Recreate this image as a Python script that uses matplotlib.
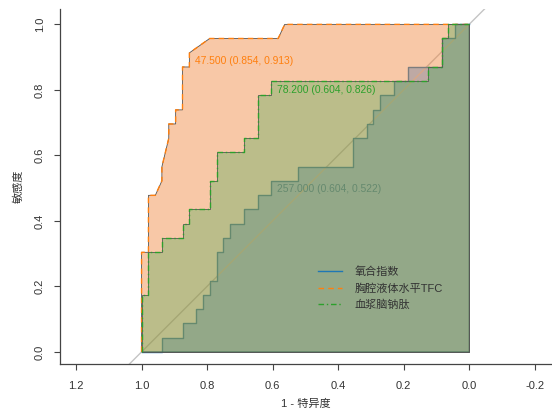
import matplotlib.pyplot as plt
import numpy as np

plt.rcParams['font.family'] = ['Liberation Sans', 'Noto Sans CJK SC', 'DejaVu Sans']
plt.rcParams['axes.unicode_minus'] = False

# ROC vertices (specificity, sensitivity)
# 氧合指数
SpecOI = [1.0, 0.938, 0.938, 0.875, 0.875, 0.833, 0.833, 0.813, 0.813, 0.792, 0.792, 0.771, 0.771,
          0.750, 0.750, 0.729, 0.729, 0.688, 0.688, 0.646, 0.646, 0.604, 0.604, 0.521, 0.521, 0.354,
          0.354, 0.313, 0.313, 0.292, 0.292, 0.271, 0.271, 0.229, 0.229, 0.188, 0.188, 0.083, 0.083,
          0.042, 0.042, 0.0]
SensOI = [0.0, 0.0, 0.043, 0.043, 0.087, 0.087, 0.130, 0.130, 0.174, 0.174, 0.217, 0.217, 0.304,
          0.304, 0.348, 0.348, 0.391, 0.391, 0.435, 0.435, 0.478, 0.478, 0.522, 0.522, 0.565, 0.565,
          0.652, 0.652, 0.696, 0.696, 0.739, 0.739, 0.783, 0.783, 0.826, 0.826, 0.870, 0.870, 0.957,
          0.957, 1.0, 1.0]
# 胸腔液体水平TFC
SpecTFC = [1.0, 1.0, 0.979, 0.979, 0.979, 0.958, 0.938, 0.938, 0.917, 0.917, 0.896, 0.896, 0.875,
           0.875, 0.854, 0.854, 0.792, 0.583, 0.563, 0.0]
SensTFC = [0.0, 0.304, 0.304, 0.435, 0.478, 0.478, 0.522, 0.565, 0.652, 0.696, 0.696, 0.739, 0.739,
           0.870, 0.870, 0.913, 0.957, 0.957, 1.0, 1.0]
# 血浆脑钠肽
SpecBNP = [1.0, 1.0, 0.979, 0.979, 0.938, 0.938, 0.875, 0.875, 0.854, 0.854, 0.792, 0.792, 0.771,
           0.771, 0.688, 0.688, 0.646, 0.646, 0.604, 0.604, 0.125, 0.125, 0.083, 0.083, 0.063, 0.063, 0.0]
SensBNP = [0.0, 0.174, 0.174, 0.304, 0.304, 0.348, 0.348, 0.391, 0.391, 0.435, 0.435, 0.522, 0.522,
           0.609, 0.609, 0.652, 0.652, 0.783, 0.783, 0.826, 0.826, 0.870, 0.870, 0.957, 0.957, 1.0, 1.0]

Labels = ['氧合指数', '胸腔液体水平TFC', '血浆脑钠肽']
BestThres = ['257.000', '47.500', '78.200']
BestSpec = [0.604, 0.854, 0.604]
BestSens = [0.522, 0.913, 0.826]
XTicks = [1.2, 1.0, 0.8, 0.6, 0.4, 0.2, 0.0, -0.2]
YTicks = [0.0, 0.2, 0.4, 0.6, 0.8, 1.0]

LineCol = ['#1f77b4', '#ff7f0e', '#2ca02c']
FillCol = [(0.09, 0.52, 0.95, 0.45), (0.94, 0.52, 0.24, 0.45), (0.19, 0.65, 0.29, 0.30)]
LineSty = ['-', (0, (4, 3)), (0, (4, 2, 1, 2))]

fig = plt.figure(figsize=(5.52, 4.16), dpi=100)
ax = fig.add_axes([60/552, 52/416, 492/552, 355/416])

curves = [(SpecOI, SensOI), (SpecTFC, SensTFC), (SpecBNP, SensBNP)]
for i in range(3):
    sp, se = curves[i]
    z = 1 + 2*i
    # auc polygon closed at the (0,0) corner
    ax.fill(np.append(sp, 0.0), np.append(se, 0.0), facecolor=FillCol[i],
            edgecolor='#555555', linewidth=0.6, zorder=z)
    if i == 0:
        ax.axline((1, 0), (0, 1), color='#c4c4c4', linewidth=1, zorder=z + 0.2)
    ax.plot(sp, se, color=LineCol[i], linestyle=LineSty[i], linewidth=1.0, zorder=z + 0.5,
            label=Labels[i])
    ax.annotate(BestThres[i] + ' (%.3f, %.3f)' % (BestSpec[i], BestSens[i]),
                xy=(BestSpec[i], BestSens[i]), xytext=(4.3, -2.5), textcoords='offset points',
                ha='left', va='top', fontsize=7.4, color=LineCol[i], zorder=z + 0.7)

ax.set_xlim(1.249, -0.253)
ax.set_ylim(-0.037, 1.047)
ax.set_xticks(XTicks)
ax.set_xticklabels(['%.1f' % t for t in XTicks])
ax.set_yticks(YTicks)
ax.set_yticklabels(['%.1f' % t for t in YTicks], rotation=90, va='center')
for s in ['top', 'right']:
    ax.spines[s].set_visible(False)
for s in ['left', 'bottom']:
    ax.spines[s].set_color('#444444')
    ax.spines[s].set_linewidth(0.9)
ax.tick_params(axis='both', direction='out', length=4, width=0.8, color='#444444',
               labelcolor='#333333', labelsize=8)
ax.tick_params(axis='x', pad=8)
ax.tick_params(axis='y', pad=7)
ax.set_xlabel('1 - 特异度', fontsize=8, color='#333333', labelpad=6)
ax.set_ylabel('敏感度', fontsize=8, color='#333333', labelpad=8)

leg = ax.legend(loc='upper left', bbox_to_anchor=(318/552, 1 - 266/416), bbox_transform=fig.transFigure,
                frameon=False, fontsize=8, handlelength=2.2, handletextpad=1.1, labelspacing=0.55,
                borderpad=0, borderaxespad=0)
leg.set_zorder(10)
for t in leg.get_texts():
    t.set_color('#333333')

fig.savefig('out.png', dpi=100)
